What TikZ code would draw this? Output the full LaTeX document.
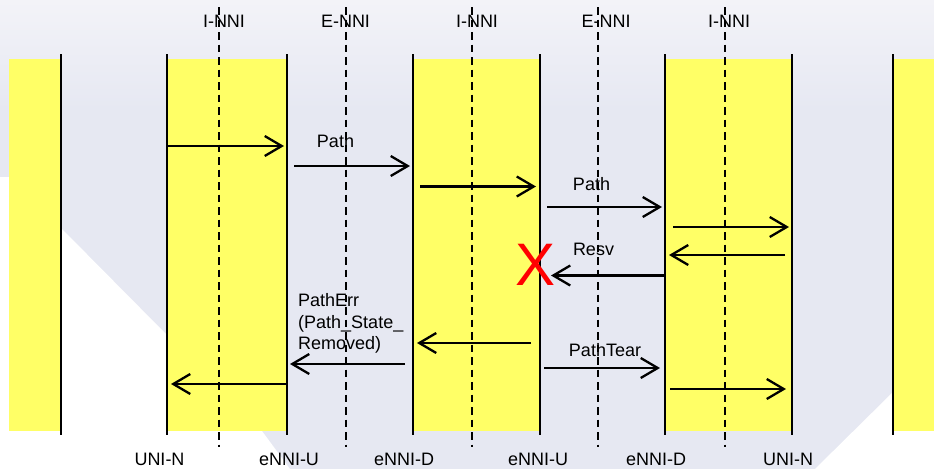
\documentclass[tikz,border=0pt]{standalone}
\usepackage{fontspec}
\setmainfont{Liberation Sans}
\usetikzlibrary{arrows.meta}
\definecolor{bgmid}{RGB}{230,232,242}
\definecolor{bgtop}{RGB}{243,243,248}
\definecolor{band}{RGB}{255,255,102}
\newcommand\msgarrow[4]{%
  \coordinate (#1s) at (#2,#4);
  \coordinate (#1e) at (#3,#4);
  \draw[msg] (#1s) -- (#1e);}
\begin{document}
\begin{tikzpicture}[x=1pt,y=-1pt,
  lifeline/.style={line width=2.3pt},
  inni/.style={line width=1.9pt,dash pattern=on 7.5pt off 5pt},
  enni/.style={line width=2.4pt,dash pattern=on 7.5pt off 5pt},
  msg/.style={line width=2.3pt,-{Straight Barb[length=17pt,width=20pt]}},
  lbl/.style={anchor=base,inner sep=0pt,font=\fontsize{18}{21.5}\selectfont},
  bandbox/.style={fill=band,draw=none}]
\clip (0,0) rectangle (934,469);
% background
\fill[bgmid] (0,0) rectangle (934,469);
\shade[top color=bgtop,bottom color=bgmid] (0,0) rectangle (934,110);
\fill[white] (0,177) rectangle (9,469);
\fill[white] (61,228) -- (167,335) -- (167,469) -- (61,469) -- cycle;
\fill[white] (0,431) -- (262,431) -- (290,469) -- (0,469) -- cycle;
\fill[white] (893,392) -- (893,431) -- (934,431) -- (934,469) -- (815,469) -- cycle;
% yellow bands
\fill[bandbox] (9,59) rectangle (61,431);
\fill[bandbox] (167,59) rectangle (287,431);
\fill[bandbox] (413,59) rectangle (540,431);
\fill[bandbox] (665,59) rectangle (792,431);
\fill[bandbox] (893,59) rectangle (934,431);
% top labels
\node[lbl] (t1) at (224,27.3) {I-NNI};
\node[lbl] (t2) at (345.5,27.3) {E-NNI};
\node[lbl] (t3) at (477,27.3) {I-NNI};
\node[lbl] (t4) at (606,27.3) {E-NNI};
\node[lbl] (t5) at (729,27.3) {I-NNI};
% bottom labels
\node[lbl] (b1) at (159.5,465) {UNI-N};
\node[lbl] (b2) at (289,465) {eNNI-U};
\node[lbl] (b3) at (404,465) {eNNI-D};
\node[lbl] (b4) at (538,465) {eNNI-U};
\node[lbl] (b5) at (656,465) {eNNI-D};
\node[lbl] (b6) at (788,465) {UNI-N};
% lifelines
\foreach \x/\n in {61/LA,167/LB,287/LC,413/LD,540/LE,665/LF,792/LG,893/LH} {
  \coordinate (\n t) at (\x,54);
  \coordinate (\n b) at (\x,435);
  \draw[lifeline] (\n t) -- (\n b);
}
% interface dashed lines
\foreach \x/\n/\s in {219/DA/inni,346/DB/enni,472/DC/inni,598/DD/enni,725/DE/inni} {
  \coordinate (\n t) at (\x,7);
  \coordinate (\n b) at (\x,447);
  \draw[\s] (\n t) -- (\n b);
}
% messages
\msgarrow{m1}{168}{284}{146}
\msgarrow{m2}{294}{410}{166}
\msgarrow{m3}{420}{536}{186.5}
\msgarrow{m4}{547}{662}{207}
\msgarrow{m5}{673}{789}{227}
\msgarrow{m6}{785}{669}{255}
\msgarrow{m7}{665}{551}{275.5}
\msgarrow{m8}{531}{417}{343}
\msgarrow{m9}{405}{290}{364}
\msgarrow{m10}{286}{171}{384}
\msgarrow{m11}{544}{660}{368}
\msgarrow{m12}{670}{786}{389}
% message labels
\node[lbl] (p1) at (335.5,147.5) {Path};
\node[lbl] (p2) at (591.5,190) {Path};
\node[lbl] (p3) at (593.5,255.7) {Resv};
\node[lbl] (p4) at (605,356) {PathTear};
\node[lbl,anchor=base west] (p5a) at (298,306.5) {PathErr};
\node[lbl,anchor=base west] (p5b) at (298,328) {(Path\_State\_};
\node[lbl,anchor=base west] (p5c) at (298,349.5) {Removed)};
% failure mark
\node[anchor=base,inner sep=0pt,text=red,font=\fontsize{60}{60}\selectfont] (fail) at (536,285) {X};
\end{tikzpicture}
\end{document}
